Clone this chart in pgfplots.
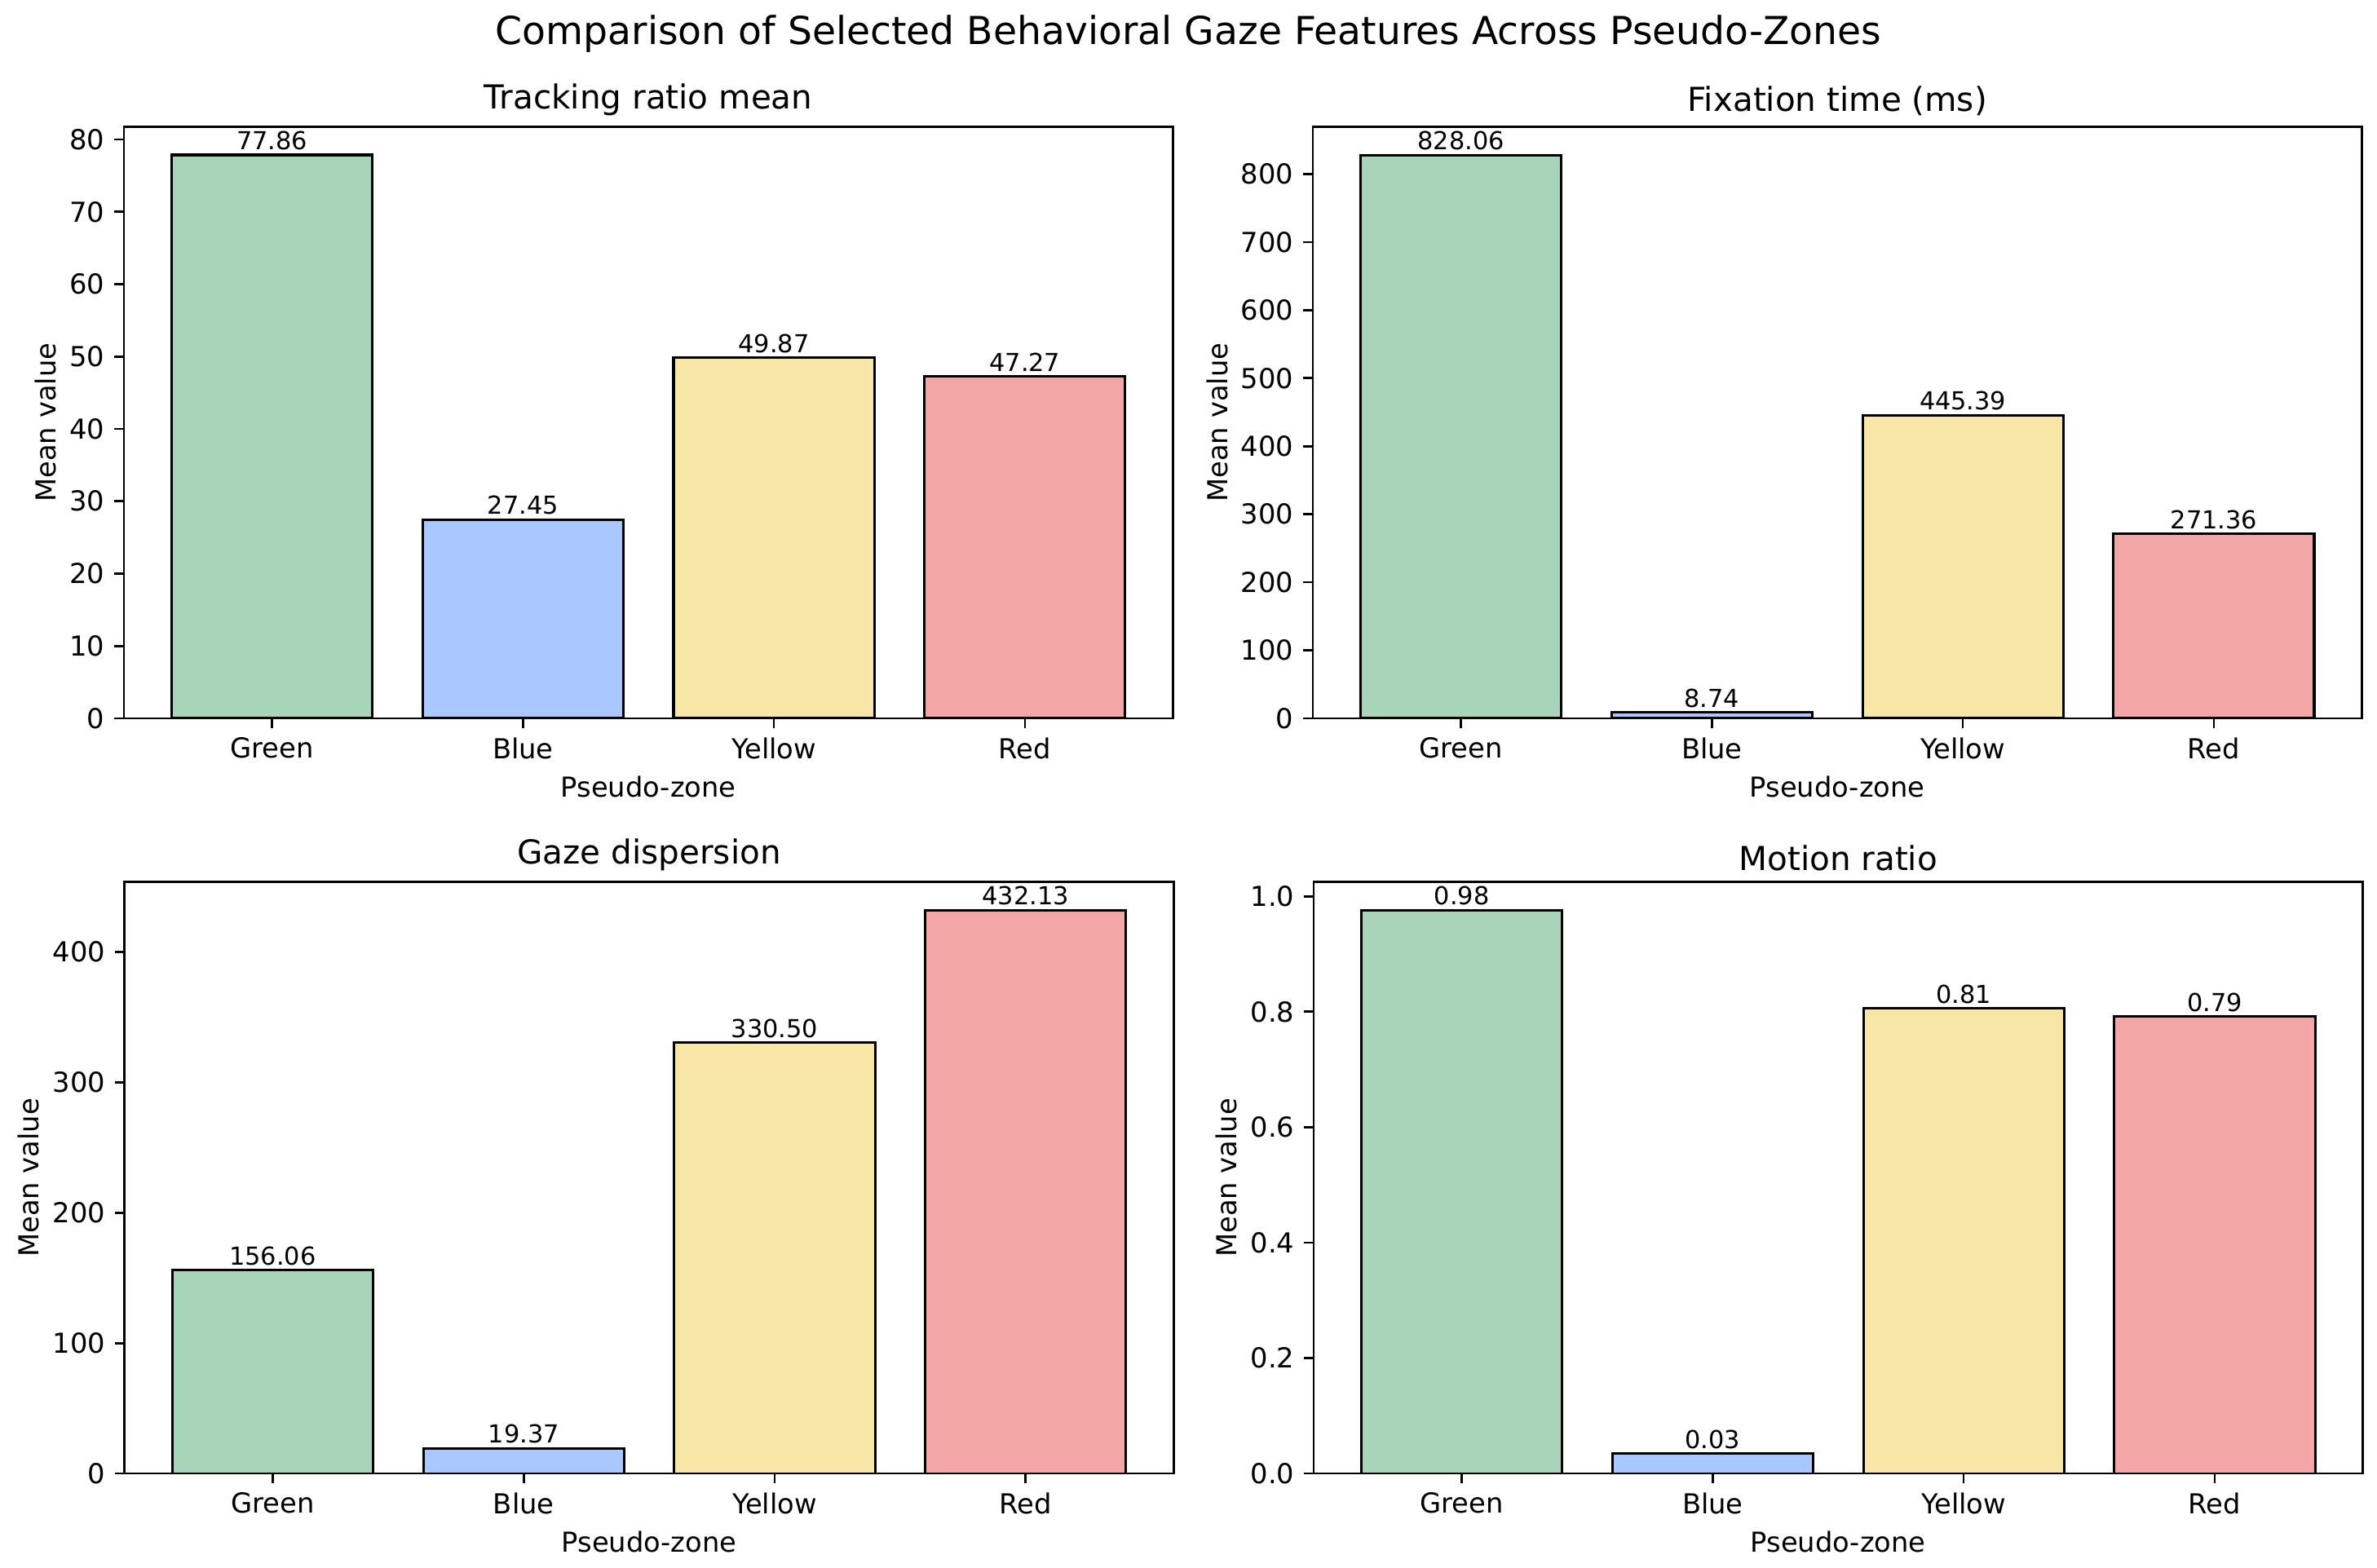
\documentclass[border=0pt]{standalone}
\usepackage{pgfplots}
\pgfplotsset{compat=1.18}
\usepackage{fontspec}
\setmainfont{DejaVu Sans}
\definecolor{cgreen}{HTML}{A8D5BA}
\definecolor{cblue}{HTML}{A8C8FF}
\definecolor{cyellow}{HTML}{F8E6A6}
\definecolor{cred}{HTML}{F3A6A6}
\pgfplotsset{
  panel/.style={
    scale only axis, width=381.3pt, height=215pt,
    anchor=south west,
    xmin=-0.59, xmax=3.59, ymin=0,
    xtick={0,1,2,3}, xticklabels={Green,Blue,Yellow,Red},
    xtick pos=bottom, ytick pos=left,
    tick align=outside, major tick length=3.5pt,
    every tick/.style={black, line width=0.8pt},
    axis line style={line width=0.8pt},
    /pgf/number format/assume math mode=true,
    tick label style={font=\fontsize{10}{12}\selectfont},
    label style={font=\fontsize{10}{12}\selectfont},
    title style={font=\fontsize{12}{14}\selectfont, yshift=-5.5pt},
    xlabel={Pseudo-zone}, ylabel={Mean value},
    xlabel style={yshift=0.5pt},
    ylabel style={yshift=-2pt},
    scaled y ticks=false,
    nodes near coords,
    nodes near coords style={font=\fontsize{9}{10}\selectfont, anchor=south, inner sep=1.3pt,
      /pgf/number format/fixed, /pgf/number format/precision=2, /pgf/number format/fixed zerofill},
  },
  bar/.style={ybar, bar width=0.8, draw=black, line width=0.9pt, fill=#1},
}
\begin{document}
\begin{tikzpicture}
\useasboundingbox (0,0) rectangle (864pt,569.7pt);
\node[font=\fontsize{14}{16}\selectfont] at (432pt,557.4pt) {Comparison of Selected Behavioral Gaze Features Across Pseudo-Zones};
% Top left
\begin{axis}[panel, at={(45.05pt,308.6pt)}, title={Tracking ratio mean}, ymax=81.75,
  ytick={0,10,...,80}]
\addplot[bar=cgreen] coordinates {(0,77.86)};
\addplot[bar=cblue] coordinates {(1,27.45)};
\addplot[bar=cyellow] coordinates {(2,49.87)};
\addplot[bar=cred] coordinates {(3,47.27)};
\end{axis}
% Top right
\begin{axis}[panel, at={(477.2pt,308.6pt)}, title={Fixation time (ms)}, ymax=869.46,
  ytick={0,100,...,800}]
\addplot[bar=cgreen] coordinates {(0,828.06)};
\addplot[bar=cblue] coordinates {(1,8.74)};
\addplot[bar=cyellow] coordinates {(2,445.39)};
\addplot[bar=cred] coordinates {(3,271.36)};
\end{axis}
% Bottom left
\begin{axis}[panel, at={(45.3pt,34.1pt)}, title={Gaze dispersion}, ymax=453.74,
  ytick={0,100,...,400}]
\addplot[bar=cgreen] coordinates {(0,156.06)};
\addplot[bar=cblue] coordinates {(1,19.37)};
\addplot[bar=cyellow] coordinates {(2,330.50)};
\addplot[bar=cred] coordinates {(3,432.13)};
\end{axis}
% Bottom right
\begin{axis}[panel, at={(477.5pt,34.1pt)}, title={Motion ratio}, ymax=1.0248,
  ytick={0,0.2,...,1.0},
  yticklabel style={/pgf/number format/fixed, /pgf/number format/precision=1, /pgf/number format/fixed zerofill}]
\addplot[bar=cgreen] coordinates {(0,0.976)};
\addplot[bar=cblue] coordinates {(1,0.034)};
\addplot[bar=cyellow] coordinates {(2,0.806)};
\addplot[bar=cred] coordinates {(3,0.792)};
\end{axis}
\end{tikzpicture}
\end{document}
